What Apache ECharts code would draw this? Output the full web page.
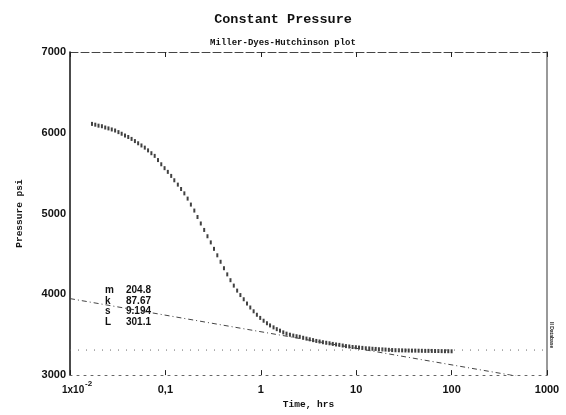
<!DOCTYPE html>
<html>
<head>
<meta charset="utf-8">
<script src="https://cdn.jsdelivr.net/npm/echarts@6/dist/echarts.min.js"></script>
<style>html,body{margin:0;padding:0;background:#fff}#c{width:566px;height:415px}</style>
</head>
<body>
<div id="c"></div>
<script>
// ---- data ----
const times = [0.0170,0.0184,0.0199,0.0216,0.0234,0.0253,0.0274,0.0297,0.0322,0.0348,
0.0377,0.0408,0.0442,0.0479,0.0518,0.0561,0.0608,0.0658,0.0713,0.0772,
0.0836,0.0905,0.0980,0.106,0.115,0.124,0.135,0.146,0.158,0.171,
0.185,0.201,0.217,0.235,0.255,0.276,0.299,0.323,0.350,0.379,
0.411,0.445,0.481,0.521,0.565,0.611,0.662,0.717,0.776,0.841,
0.910,0.986,1.07,1.16,1.25,1.36,1.47,1.59,1.72,1.86,
2.02,2.19,2.37,2.56,2.78,3.01,3.26,3.53,3.82,4.13,
4.48,4.85,5.25,5.68,6.15,6.66,7.22,7.81,8.46,9.16,
9.92,10.7,11.6,12.6,13.7,14.8,16.0,17.3,18.8,20.3,
22.0,23.8,25.8,28.0,30.3,32.8,35.5,38.4,41.6,45.1,
48.8,52.9,57.2,62.0,67.1,72.7,78.7,85.2,92.3,100];
const pressures = [6110,6100,6088,6081,6065,6054,6041,6028,6008,5988,
5966,5948,5924,5897,5870,5843,5816,5782,5747,5714,
5662,5610,5562,5516,5466,5412,5358,5304,5250,5185,
5111,5037,4957,4877,4797,4719,4643,4563,4483,4403,
4323,4247,4175,4108,4046,3991,3939,3886,3837,3790,
3747,3708,3673,3642,3615,3591,3569,3550,3529,3513,
3500,3489,3481,3474,3462,3452,3443,3433,3423,3416,
3407,3400,3394,3386,3379,3374,3366,3359,3354,3348,
3345,3341,3337,3332,3330,3326,3324,3320,3318,3316,
3313,3310,3308,3307,3306,3305,3304,3303,3303,3302,
3301,3300,3300,3299,3298,3298,3297,3296,3296,3295];
const semilogTimes = [0.01, 1000];
const semilogPressures = [3947, 2922];
const refTimes = [0.01, 1000];
const refPressures = [3310, 3310];
const paramNames = ['m','k','s','L'];
const paramValues = ['204.8','87.67','9.194','301.1'];
const xTickLabels = {'-1':'0,1', '0':'1', '1':'10', '2':'100', '3':'1000'};
const firstTickBase = '1x10';
const firstTickExp = '-2';
const yTicks = [3000,4000,5000,6000,7000];

const chart = echarts.init(document.getElementById('c'), null, {renderer:'canvas'});
const mono = 'Liberation Mono, DejaVu Sans Mono, monospace';
const sans = 'Liberation Sans, Arial, sans-serif';

const paramGraphics = paramNames.map((n,i)=>({
  type:'group', left:105, top:285 + i*10.8,
  children:[
    {type:'text', left:0, top:0, style:{text:n, font:'bold 10px '+sans, fill:'#111'}},
    {type:'text', left:21, top:0, style:{text:paramValues[i], font:'bold 10px '+sans, fill:'#111'}}
  ]
}));

chart.setOption({
  animation:false,
  backgroundColor:'#fff',
  title:[
    {text:'Constant Pressure', left:'center', top:8,
     textStyle:{fontFamily:mono, fontWeight:'bold', fontSize:13.5, color:'#111'}},
    {text:'Miller-Dyes-Hutchinson plot', left:'center', top:33,
     textStyle:{fontFamily:mono, fontWeight:'bold', fontSize:9, color:'#111'}}
  ],
  grid:{left:70, right:19, top:52, bottom:38},
  xAxis:[
    {type:'log', logBase:10, min:0.01, max:1000, position:'bottom',
     name:'Time, hrs', nameLocation:'middle', nameGap:24,
     nameTextStyle:{fontFamily:mono, fontWeight:'bold', fontSize:9.5, color:'#111'},
     axisLine:{show:true, lineStyle:{color:'#666', width:1, type:[2,5]}},
     axisTick:{show:true, inside:true, length:5, lineStyle:{color:'#222'}},
     minorTick:{show:false}, splitLine:{show:false},
     axisLabel:{margin:9, color:'#111', fontFamily:sans, fontWeight:'bold', fontSize:11,
       formatter:function(v){
         const e = Math.round(Math.log10(v));
         return xTickLabels[String(e)] || '';
       }
     }},
    {type:'log', logBase:10, min:0.01, max:1000, position:'top',
     axisLine:{show:true, lineStyle:{color:'#444', width:1, type:[8,3]}},
     axisTick:{show:true, inside:true, length:5, lineStyle:{color:'#222'}},
     axisLabel:{show:false}, splitLine:{show:false}}
  ],
  yAxis:[
    {type:'value', min:3000, max:7000, interval:1000, position:'left',
     name:'Pressure psi', nameLocation:'middle', nameGap:45, nameRotate:90,
     nameTextStyle:{fontFamily:mono, fontWeight:'bold', fontSize:9.5, color:'#111'},
     axisLine:{show:true, lineStyle:{color:'#111', width:1.5}},
     axisTick:{show:false}, splitLine:{show:false},
     axisLabel:{margin:4, color:'#111', fontFamily:sans, fontWeight:'bold', fontSize:11,
       formatter:function(v){ return yTicks.indexOf(v) >= 0 ? String(v) : ''; }}},
    {type:'value', min:3000, max:7000, interval:1000, position:'right',
     axisLine:{show:true, lineStyle:{color:'#999', width:2}},
     axisTick:{show:false}, axisLabel:{show:false}, splitLine:{show:false}}
  ],
  series:[
    {type:'line', name:'reference', xAxisIndex:0, yAxisIndex:0,
     data:refTimes.map((t,i)=>[t, refPressures[i]]),
     symbol:'none', lineStyle:{color:'#666', width:1, type:[1,7]}, silent:true},
    {type:'line', name:'semilog', xAxisIndex:0, yAxisIndex:0,
     data:semilogTimes.map((t,i)=>[t, semilogPressures[i]]),
     symbol:'none', clip:true, lineStyle:{color:'#444', width:1, type:[5,3,1,3]}, silent:true},
    {type:'scatter', name:'MDH', xAxisIndex:0, yAxisIndex:0,
     data:times.map((t,i)=>[t, pressures[i]]),
     symbol:'rect', symbolSize:[2,4], itemStyle:{color:'#111'}}
  ],
  graphic:[
    ...paramGraphics,
    {type:'text', left:549, top:322, rotation:-Math.PI/2, originX:0, originY:0,
     style:{text:'II Database', font:'bold 5px '+sans, fill:'#222'}}
  ]
});

// first tick label (with superscript exponent) placed at the axis's own min tick
const p0 = chart.convertToPixel({xAxisIndex:0, yAxisIndex:0}, [0.01, 3000]);
chart.setOption({graphic:[
  {id:'tick0base', type:'text', x:p0[0] - 8, y:p0[1] + 10,
   style:{text:firstTickBase, font:'bold 10px '+sans, fill:'#111', textVerticalAlign:'top'}},
  {id:'tick0exp', type:'text', x:p0[0] + 15, y:p0[1] + 5,
   style:{text:firstTickExp, font:'bold 8px '+sans, fill:'#111', textVerticalAlign:'top'}}
]});
</script>
</body>
</html>
